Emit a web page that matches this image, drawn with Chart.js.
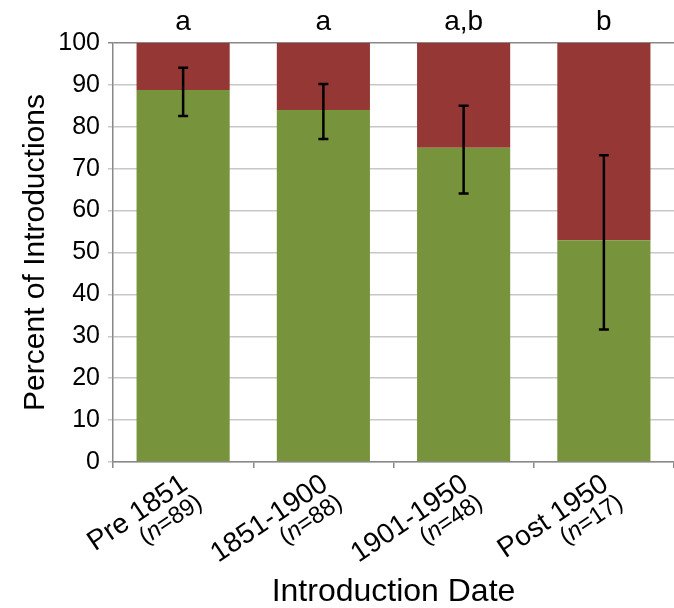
<!DOCTYPE html>
<html>
<head>
<meta charset="utf-8">
<script src="https://cdn.jsdelivr.net/npm/chart.js@4/dist/chart.umd.min.js"></script>
<style>
  body { margin: 0; background: #fff; }
  #wrap { width: 674px; height: 608px; }
</style>
</head>
<body>
<div id="wrap"><canvas id="chart_main" width="674" height="608"></canvas></div>
<script>
"use strict";

// データ
const periods    = ['Pre 1851', '1851-1900', '1901-1950', 'Post 1950'];
const sampleN    = [89, 88, 48, 17];
const greenPct   = [88.8, 84.0, 75.0, 52.9];
const redPct     = [11.2, 16.0, 25.0, 47.1];
const errLow     = [82.6, 77.1, 64.1, 31.6];
const errHigh    = [94.1, 90.2, 85.0, 73.2];
const groupTags  = ['a', 'a', 'a,b', 'b'];
const yTicks     = [0, 10, 20, 30, 40, 50, 60, 70, 80, 90, 100];

const FONT = '"Liberation Sans", Arial, sans-serif';

// エラーバー・文字・x ラベル
const extras = {
  id: 'extras',
  afterDraw(chart) {
    const ctx = chart.ctx, x = chart.scales.x, y = chart.scales.y;
    ctx.save();

    // error bars
    ctx.strokeStyle = '#000';
    ctx.lineWidth = 2.5;
    for (let i = 0; i < periods.length; i++) {
      const cx = x.getPixelForValue(i), y1 = y.getPixelForValue(errLow[i]), y2 = y.getPixelForValue(errHigh[i]);
      ctx.beginPath();
      ctx.moveTo(cx, y1); ctx.lineTo(cx, y2);
      ctx.moveTo(cx - 5, y1); ctx.lineTo(cx + 5, y1);
      ctx.moveTo(cx - 5, y2); ctx.lineTo(cx + 5, y2);
      ctx.stroke();
    }

    // letters above bars
    ctx.fillStyle = '#000';
    ctx.font = '28px ' + FONT;
    ctx.textAlign = 'center';
    ctx.textBaseline = 'alphabetic';
    for (let i = 0; i < groupTags.length; i++) {
      ctx.fillText(groupTags[i], x.getPixelForValue(i), 30);
    }

    // rotated x labels
    const ang = -34 * Math.PI / 180;
    for (let i = 0; i < periods.length; i++) {
      const cx = x.getPixelForValue(i);
      ctx.save();
      ctx.translate(cx + 6, 488);
      ctx.rotate(ang);
      ctx.textAlign = 'left';
      ctx.font = '28px ' + FONT;
      const w1 = ctx.measureText(periods[i]).width;
      ctx.fillText(periods[i], -w1, 0);
      // (n=..)
      const a = '(', b = '=' + sampleN[i] + ')';
      ctx.font = '24px ' + FONT;
      const wa = ctx.measureText(a).width, wb = ctx.measureText(b).width;
      ctx.font = 'italic 24px ' + FONT;
      const wn = ctx.measureText('n').width;
      let px = -(wa + wn + wb) + 2;
      const py = 23;
      ctx.font = '24px ' + FONT;
      ctx.fillText(a, px, py); px += wa;
      ctx.font = 'italic 24px ' + FONT;
      ctx.fillText('n', px, py); px += wn;
      ctx.font = '24px ' + FONT;
      ctx.fillText(b, px, py);
      ctx.restore();
    }
    ctx.restore();
  }
};

const ctx = document.getElementById('chart_main');
const chart = new Chart(ctx, {
  type: 'bar',
  data: {
    labels: periods,
    datasets: [
      { label: 'green', data: greenPct, backgroundColor: '#77933c', barPercentage: 0.664, categoryPercentage: 1 },
      { label: 'red',   data: redPct,   backgroundColor: '#953735', barPercentage: 0.664, categoryPercentage: 1 },
    ],
  },
  options: {
    responsive: false,
    animation: false,
    layout: { padding: { top: 43, right: 0, bottom: 0, left: 0 } },
    plugins: { legend: { display: false }, tooltip: { enabled: false } },
    scales: {
      x: {
        stacked: true,
        grid: { drawOnChartArea: false, tickLength: 6, color: '#888', lineWidth: 1.5 },
        border: { color: '#888', width: 1.5 },
        ticks: { display: false },
        title: { display: true, text: 'Introduction Date', color: '#000',
                 font: { family: FONT, size: 32, lineHeight: 1 }, padding: { top: 0, bottom: 0 } },
        afterFit(scale) { scale.height = 146; },
      },
      y: {
        stacked: true,
        min: 0, max: 100,
        afterBuildTicks(scale) { scale.ticks = yTicks.map(v => ({ value: v })); },
        ticks: { color: '#000', padding: 8, font: { family: FONT, size: 25 } },
        grid: {
          color: c => c.tick && c.tick.value === 100 ? '#888' : '#c8c8c8',
          lineWidth: 1.5, tickLength: 5,
        },
        border: { color: '#888', width: 1.5 },
        title: { display: true, text: 'Percent of Introductions', color: '#000',
                 font: { family: FONT, size: 30, lineHeight: 1 }, padding: { top: 21, bottom: 0 } },
        afterFit(scale) { scale.width = 113; },
      },
    },
  },
  plugins: [extras],
});
</script>
</body>
</html>
